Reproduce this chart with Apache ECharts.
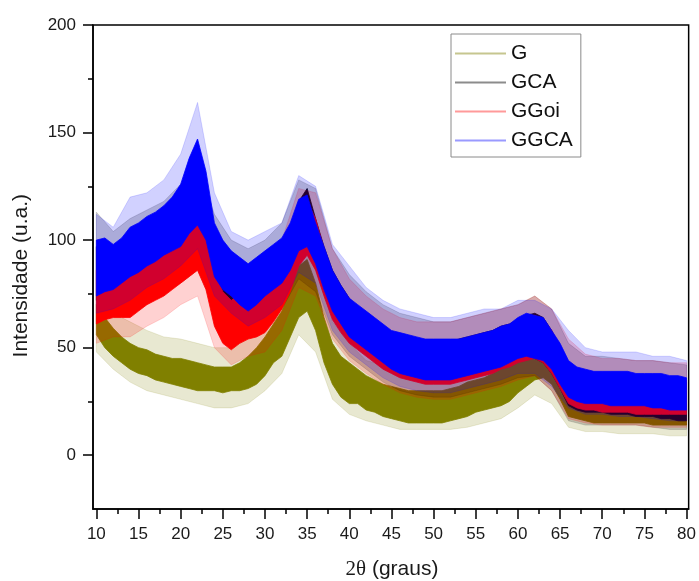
<!DOCTYPE html>
<html>
<head>
<meta charset="utf-8">
<script src="https://cdn.jsdelivr.net/npm/echarts@6/dist/echarts.min.js"></script>
<style>
html,body{margin:0;padding:0;background:#fff;}
#chart{width:699px;height:581px;}
</style>
</head>
<body>
<div id="chart"></div>
<script>
// 2θ sampling of the read-off envelopes (degrees)
const coreStart = 10, coreStep = 1;     // dense noise band, every 1°
const spikeStart = 10, spikeStep = 2;   // outer spike envelope, every 2°

// ---- G ----
const G_hi = [70,64,59,55,52,50,49,47,46,45,45,44,43,42,41,41,41,43,46,50,55,61,67,77,88,91,80,64,52,46,43,40,37,35,33,32,31,30,30,30,30,30,31,32,34,35,36,38,40,44,47,50,55,56,51,43,31,28,27,26,26,26,26,26,26,26,25,25,25,24,24];
const G_lo = [56,50,46,43,40,38,37,35,34,33,32,31,30,30,30,29,30,30,31,33,37,43,46,55,64,67,58,43,33,27,24,24,21,20,18,17,16,15,15,15,15,15,16,17,18,20,21,22,23,25,29,32,35,36,33,26,18,17,16,15,15,15,15,15,15,15,14,14,14,14,14];
const G_peak = [76,66,62,58,55,54,52,50,50,54,64,76,96,92,62,52,44,42,40,38,38,40,42,45,48,55,62,58,40,34,33,33,33,32,32,30];
const G_dip  = [48,40,34,30,28,26,24,22,22,24,30,38,56,48,26,19,16,14,12,12,12,12,13,15,17,22,28,24,13,11,11,10,10,10,9,9];

// ---- GCA ----
const GCA_hi = [97,95,95,96,99,101,104,106,108,111,116,121,125,117,100,94,90,88,87,89,92,95,99,106,118,124,110,97,86,79,73,69,66,63,60,57,56,55,54,53,53,53,53,54,55,56,57,58,60,61,63,65,66,64,58,50,41,38,37,36,36,36,36,35,35,35,35,35,34,34,34];
const GCA_lo = [72,73,74,76,78,80,82,84,86,88,90,94,97,90,78,72,69,66,65,67,71,74,78,84,93,96,87,76,66,59,54,50,47,44,41,39,37,36,35,34,34,34,34,35,36,37,38,39,41,42,44,45,45,43,38,31,23,21,20,20,20,19,19,19,18,18,18,17,17,16,16];
const GCA_peak = [113,104,110,114,118,126,136,112,100,96,100,108,128,124,96,84,76,70,66,64,62,62,64,66,68,70,74,68,52,46,46,45,44,44,43,42];
const GCA_dip  = [62,65,68,72,76,80,86,68,60,56,60,68,82,76,56,46,40,34,30,28,27,27,29,31,33,36,37,30,16,14,14,14,14,13,12,12];

// ---- GGoi ----
const GGoi_hi = [86,87,89,88,86,89,92,94,96,100,105,111,117,110,86,76,72,75,77,79,82,86,90,97,112,118,110,96,84,77,72,68,65,62,59,57,55,54,53,52,52,52,52,53,54,55,56,57,59,60,62,64,65,63,58,50,42,39,38,37,37,37,37,36,36,36,36,35,35,35,35];
const GGoi_lo = [61,63,64,64,64,67,70,72,74,77,80,83,86,77,60,52,49,52,54,55,57,62,68,76,88,93,86,74,63,57,52,49,46,43,40,38,36,35,34,33,33,33,33,34,35,36,37,38,40,41,43,44,45,43,38,31,24,22,21,21,20,20,20,20,19,19,19,19,19,19,19];
const GGoi_peak = [100,98,97,102,106,114,126,100,84,86,92,100,124,122,96,82,74,68,64,62,62,62,64,66,68,70,74,68,54,47,45,45,44,44,43,43];
const GGoi_dip  = [52,55,55,60,64,70,74,50,42,46,48,58,78,74,54,44,38,33,29,27,26,26,28,30,32,35,37,30,17,15,14,14,14,13,13,13];

// ---- GGCA ----
const GGCA_hi = [100,101,98,101,106,108,111,113,116,120,126,138,147,132,108,100,95,92,89,92,95,98,101,108,119,121,108,97,86,79,73,70,67,64,61,58,57,56,55,54,54,54,54,54,55,56,57,58,60,61,64,66,65,64,58,52,44,41,40,39,39,39,39,39,38,38,38,38,37,37,36];
const GGCA_lo = [74,76,77,80,83,85,88,90,93,95,97,103,107,100,83,77,74,70,67,70,74,77,80,86,95,97,89,77,67,61,55,52,49,46,43,40,38,37,36,35,35,35,35,36,37,38,39,40,41,43,45,46,45,44,40,33,27,25,24,24,24,23,23,23,23,23,22,22,21,21,21];
const GGCA_peak = [112,106,120,122,128,140,164,122,104,100,104,108,130,125,98,88,78,72,68,66,64,64,66,68,68,72,72,68,58,50,48,48,48,46,46,44];
const GGCA_dip  = [66,68,72,78,82,88,96,74,66,60,64,70,85,80,58,48,42,36,32,30,29,29,31,33,35,38,38,32,22,19,19,18,18,17,16,16];

const seriesNames = ['G', 'GCA', 'GGoi', 'GGCA'];
const bands = {
  G:    {hi: G_hi, lo: G_lo, peak: G_peak, dip: G_dip},
  GCA:  {hi: GCA_hi, lo: GCA_lo, peak: GCA_peak, dip: GCA_dip},
  GGoi: {hi: GGoi_hi, lo: GGoi_lo, peak: GGoi_peak, dip: GGoi_dip},
  GGCA: {hi: GGCA_hi, lo: GGCA_lo, peak: GGCA_peak, dip: GGCA_dip}
};

const xMajorTicks = [10,15,20,25,30,35,40,45,50,55,60,65,70,75,80];
const xMinorTicks = [12.5,17.5,22.5,27.5,32.5,37.5,42.5,47.5,52.5,57.5,62.5,67.5,72.5,77.5];
const yMajorTicks = [0,50,100,150,200];
const yMinorTicks = [25,75,125,175];

const lineColors = {G: '#808000', GCA: '#000000', GGoi: '#ff0000', GGCA: '#0000ff'};
const legendColors = {G: '#c6c68f', GCA: '#8c8c8c', GGoi: '#ff9a9a', GGCA: '#9a9aff'};

const font = 'Liberation Sans, Arial, sans-serif';

function bandData(lo, hi, start, step) {
  return lo.map((v, i) => [start + i * step, v, hi[i]]);
}

function bandSeries(name, data, color, opacity, z) {
  return {
    name: name,
    type: 'custom',
    coordinateSystem: 'cartesian2d',
    xAxisIndex: 0, yAxisIndex: 0,
    clip: true,
    silent: true,
    z: z,
    itemStyle: {color: color},
    encode: {x: 0, y: [1, 2]},
    data: data,
    renderItem: function (params, api) {
      if (params.dataIndex !== 0) return null;
      const top = data.map(d => api.coord([d[0], d[2]]));
      const bottom = data.map(d => api.coord([d[0], d[1]])).reverse();
      return {
        type: 'polygon',
        shape: {points: top.concat(bottom)},
        style: {fill: color, opacity: opacity, stroke: color, lineWidth: 0.8}
      };
    }
  };
}

const series = [];
seriesNames.forEach((n, i) => {
  const b = bands[n];
  series.push(bandSeries(n, bandData(b.dip, b.peak, spikeStart, spikeStep), lineColors[n], 0.18, 2 + i * 2));
  series.push(bandSeries(n, bandData(b.lo, b.hi, coreStart, coreStep), lineColors[n], 1, 3 + i * 2));
});

const chart = echarts.init(document.getElementById('chart'), null, {renderer: 'canvas'});

const option = {
  animation: false,
  backgroundColor: '#ffffff',
  grid: {
    left: 93, right: 8, top: 25, bottom: 72,
    show: true, borderColor: '#000', borderWidth: 1.5, backgroundColor: 'transparent'
  },
  legend: {
    orient: 'vertical',
    left: 451, top: 34,
    padding: [9, 8, 6, 4],
    borderColor: '#8a8a8a', borderWidth: 1,
    backgroundColor: '#fff',
    itemWidth: 51, itemHeight: 2, itemGap: 8,
    textStyle: {fontFamily: font, fontSize: 21, color: '#111', lineHeight: 20},
    data: seriesNames.map(n => ({
      name: n,
      icon: 'rect',
      itemStyle: {color: legendColors[n], opacity: 1}
    }))
  },
  xAxis: [
    {
      type: 'value', min: 9.6, max: 80.25,
      position: 'bottom',
      axisLine: {show: true, onZero: false, lineStyle: {color: '#000', width: 1.5}},
      axisTick: {show: true, inside: false, length: 10, customValues: xMajorTicks, lineStyle: {color: '#000', width: 1.5}},
      axisLabel: {show: true, customValues: xMajorTicks, margin: 17, fontFamily: font, fontSize: 17, color: '#1a1a1a'},
      splitLine: {show: false}
    },
    {
      type: 'value', min: 9.6, max: 80.25,
      position: 'bottom',
      axisLine: {show: false, onZero: false},
      axisTick: {show: true, inside: false, length: 5, customValues: xMinorTicks, lineStyle: {color: '#000', width: 1.5}},
      axisLabel: {show: false},
      splitLine: {show: false}
    }
  ],
  yAxis: [
    {
      type: 'value', min: -25, max: 200,
      position: 'left',
      axisLine: {show: true, onZero: false, lineStyle: {color: '#000', width: 1.5}},
      axisTick: {show: true, inside: false, length: 10, customValues: yMajorTicks, lineStyle: {color: '#000', width: 1.5}},
      axisLabel: {show: true, customValues: yMajorTicks, margin: 17, fontFamily: font, fontSize: 17, color: '#1a1a1a'},
      splitLine: {show: false}
    },
    {
      type: 'value', min: -25, max: 200,
      position: 'left',
      axisLine: {show: false, onZero: false},
      axisTick: {show: true, inside: false, length: 5, customValues: yMinorTicks, lineStyle: {color: '#000', width: 1.5}},
      axisLabel: {show: false},
      splitLine: {show: false}
    }
  ],
  graphic: [
    {
      type: 'text',
      left: 11, top: 194,
      rotation: Math.PI / 2,
      style: {text: 'Intensidade (u.a.)', font: '21px ' + font, fill: '#1a1a1a'}
    },
    {
      type: 'text',
      x: 392, y: 569,
      style: {
        text: '{t|2θ} (graus)',
        font: '21px ' + font,
        fill: '#1a1a1a',
        align: 'center',
        verticalAlign: 'middle',
        rich: {t: {fontFamily: 'Liberation Serif, Times New Roman, serif', fontSize: 21, fill: '#1a1a1a'}}
      }
    }
  ],
  series: series
};

chart.setOption(option);
</script>
</body>
</html>
